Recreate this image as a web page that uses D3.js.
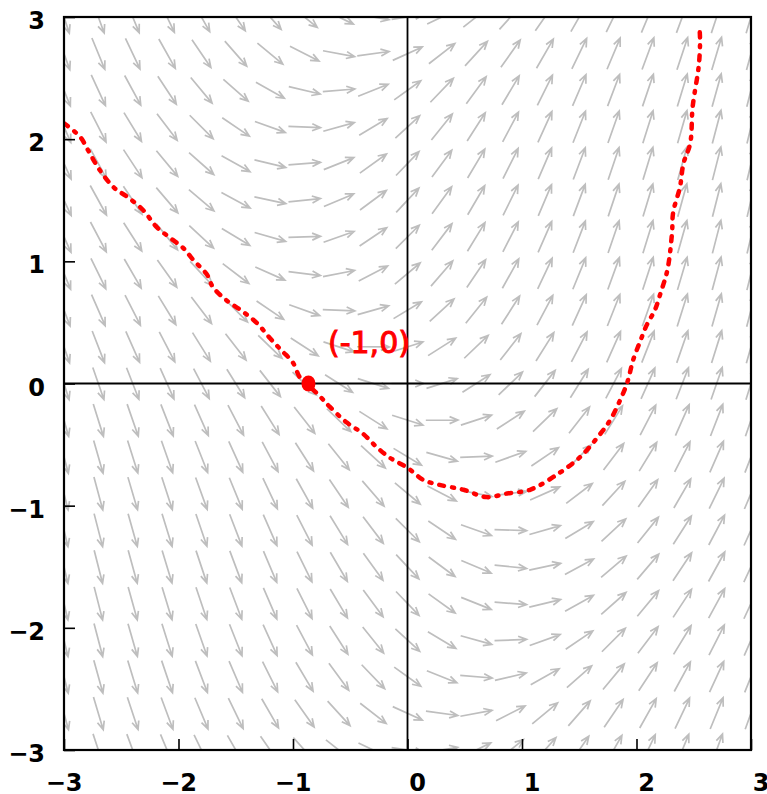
<!DOCTYPE html>
<html>
<head>
<meta charset="utf-8">
<script src="https://cdn.jsdelivr.net/npm/d3@7"></script>
<style>
  body { margin: 0; background: #fff; }
  svg text { font-family: "DejaVu Sans", sans-serif; }
</style>
</head>
<body>
<div id="chart"></div>
<script>
// grid of the slope field (step 0.3)
const gridX = [-3, -2.7, -2.4, -2.1, -1.8, -1.5, -1.2, -0.9, -0.6, -0.3, 0,
  0.3, 0.6, 0.9, 1.2, 1.5, 1.8, 2.1, 2.4, 2.7, 3];
const gridY = [-3, -2.7, -2.4, -2.1, -1.8, -1.5, -1.2, -0.9, -0.6, -0.3, 0,
  0.3, 0.6, 0.9, 1.2, 1.5, 1.8, 2.1, 2.4, 2.7, 3];

// dy/dx of the drawn field
const slope = (x, y) => x + Math.sin(y);

// hand-drawn solution sketch
const curveX = [-3.0, -2.86, -2.79, -2.69, -2.56, -2.45, -2.31, -2.19, -2.07, -1.96,
  -1.87, -1.75, -1.70, -1.58, -1.44, -1.31, -1.20, -1.10, -1.0, -0.94, -0.87,
  -0.76, -0.68, -0.53, -0.39, -0.27, -0.15, 0.0, 0.14, 0.28, 0.49, 0.69, 0.87,
  1.07, 1.33, 1.51, 1.66, 1.77, 1.86, 1.92, 1.97, 2.03, 2.09, 2.16, 2.21, 2.27,
  2.31, 2.32, 2.38, 2.41, 2.47, 2.49, 2.54, 2.55, 2.555, 2.55];
const curveY = [2.13, 2.02, 1.91, 1.75, 1.60, 1.53, 1.42, 1.28, 1.19, 1.11,
  1.01, 0.89, 0.79, 0.68, 0.59, 0.49, 0.37, 0.27, 0.17, 0.05, -0.01,
  -0.11, -0.19, -0.32, -0.41, -0.52, -0.61, -0.69, -0.79, -0.83, -0.87, -0.93, -0.90,
  -0.87, -0.73, -0.60, -0.44, -0.30, -0.13, 0.01, 0.19, 0.34, 0.48, 0.60, 0.74, 0.93,
  1.23, 1.40, 1.61, 1.80, 1.97, 2.26, 2.57, 2.67, 2.81, 2.92];

const pointX = -0.865;
const pointY = 0;
const pointLabel = "(-1,0)";

const xTicks = [-3, -2, -1, 0, 1, 2, 3];
const yTicks = [-3, -2, -1, 0, 1, 2, 3];
const tickLabel = d => d < 0 ? "\u2212" + Math.abs(d) : String(d);

const width = 767, height = 794;
const margin = {top: 17, right: 16, bottom: 44, left: 64};

const x = d3.scaleLinear().domain([-3, 3]).range([margin.left, width - margin.right]);
const y = d3.scaleLinear().domain([-3, 3]).range([height - margin.bottom, margin.top]);

const svg = d3.select('#chart')
  .append('svg')
  .attr('width', width)
  .attr('height', height);

svg.append('clipPath')
  .attr('id', 'plot-clip')
  .append('rect')
  .attr('x', x(-3))
  .attr('y', y(3))
  .attr('width', x(3) - x(-3))
  .attr('height', y(-3) - y(3));

// slope field arrows
const cells = [];
gridX.forEach(gx => gridY.forEach(gy => cells.push([gx, gy])));

const halfLen = 0.14;
const headLen = 9, headAng = 0.4;

svg.append('g')
  .attr('class', 'field')
  .attr('clip-path', 'url(#plot-clip)')
  .selectAll('path')
  .data(cells)
  .enter()
  .append('path')
  .attr('fill', 'none')
  .attr('stroke', '#bebebe')
  .attr('stroke-width', 1.7)
  .attr('d', d => {
    const s = slope(d[0], d[1]);
    const n = Math.hypot(1, s);
    const dx = halfLen / n, dy = halfLen * s / n;
    const x1 = x(d[0] - dx), y1 = y(d[1] - dy);
    const x2 = x(d[0] + dx), y2 = y(d[1] + dy);
    const a = Math.atan2(y2 - y1, x2 - x1);
    const hx1 = x2 - headLen * Math.cos(a - headAng), hy1 = y2 - headLen * Math.sin(a - headAng);
    const hx2 = x2 - headLen * Math.cos(a + headAng), hy2 = y2 - headLen * Math.sin(a + headAng);
    return `M${x1},${y1}L${x2},${y2}M${hx1},${hy1}L${x2},${y2}L${hx2},${hy2}`;
  });

// zero axes
svg.append('line')
  .attr('x1', x(-3)).attr('x2', x(3))
  .attr('y1', y(0)).attr('y2', y(0))
  .attr('stroke', '#000').attr('stroke-width', 1.8);
svg.append('line')
  .attr('x1', x(0)).attr('x2', x(0))
  .attr('y1', y(-3)).attr('y2', y(3))
  .attr('stroke', '#000').attr('stroke-width', 1.8);

// axes (inward ticks, labels only bottom/left)
const xAxis = d3.axisBottom(x)
  .tickValues(xTicks)
  .tickSize(-11)
  .tickPadding(24)
  .tickFormat(tickLabel);

const yAxis = d3.axisLeft(y)
  .tickValues(yTicks)
  .tickSize(-11)
  .tickPadding(19)
  .tickFormat(tickLabel);

const gx = svg.append('g')
  .attr('transform', 'translate(0,' + y(-3) + ')')
  .call(xAxis);
const gy = svg.append('g')
  .attr('transform', 'translate(' + x(-3) + ',0)')
  .call(yAxis);

[gx, gy].forEach(g => {
  g.select('.domain').remove();
  g.selectAll('.tick line').attr('stroke', '#000').attr('stroke-width', 1.6);
  g.selectAll('.tick text')
    .attr('fill', '#000')
    .style('font-size', '24px')
    .style('font-weight', 'bold');
});
gx.selectAll('.tick text')
  .attr('text-anchor', 'end')
  .attr('x', 18);
gy.selectAll('.tick text')
  .attr('dy', '0.48em');

// hand-drawn solution curve
const line = d3.line()
  .x((d, i) => x(curveX[i]))
  .y((d, i) => y(curveY[i]))
  .curve(d3.curveCatmullRom);

svg.append('path')
  .datum(curveX)
  .attr('clip-path', 'url(#plot-clip)')
  .attr('fill', 'none')
  .attr('stroke', '#ff0000')
  .attr('stroke-width', 4.5)
  .attr('stroke-linecap', 'round')
  .attr('stroke-dasharray', '5,8,2,8')
  .attr('d', line);

svg.append('ellipse')
  .attr('cx', x(pointX))
  .attr('cy', y(pointY))
  .attr('rx', 7)
  .attr('ry', 8)
  .attr('fill', '#ff0000');

svg.append('text')
  .attr('x', 328)
  .attr('y', 353)
  .attr('fill', '#ff0000')
  .attr('stroke', '#ff0000')
  .attr('stroke-width', 1)
  .style('font-size', '30px')
  .text(pointLabel);

// border
svg.append('rect')
  .attr('x', x(-3))
  .attr('y', y(3))
  .attr('width', x(3) - x(-3))
  .attr('height', y(-3) - y(3))
  .attr('fill', 'none')
  .attr('stroke', '#000')
  .attr('stroke-width', 2.2);
</script>
</body>
</html>
